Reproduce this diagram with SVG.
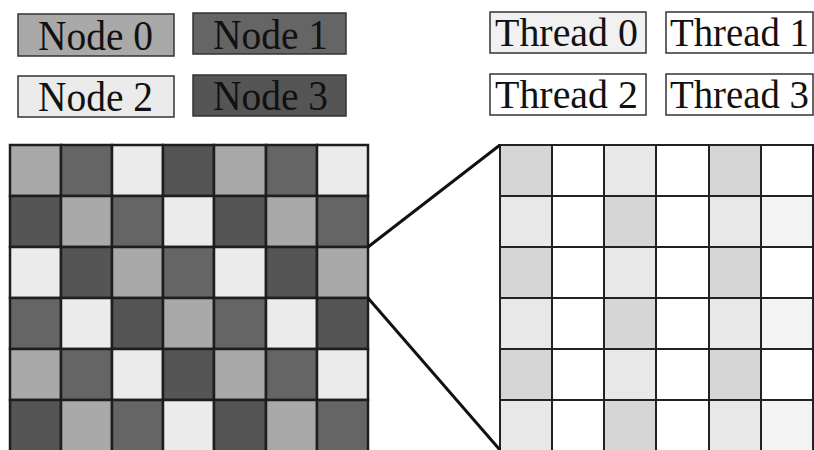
<svg xmlns="http://www.w3.org/2000/svg" width="814" height="450" viewBox="0 0 814 450">
<style>
  .lbl { font-family: "Liberation Serif", "Times New Roman", serif; font-size: 42px; fill: #111; }
  .tlbl { font-family: "Liberation Serif", "Times New Roman", serif; font-size: 39px; fill: #111; }
  .box { stroke: #333; stroke-width: 1.5; }
  .n0 { fill: #a9a9a9; }
  .n1 { fill: #656565; }
  .n2 { fill: #ebebeb; }
  .n3 { fill: #555555; }
  .cellL { stroke: #1e1e1e; stroke-width: 2.5; }
  .cellR { stroke: #222; stroke-width: 2; }
  .tg { fill: #d6d6d6; }
  .tl { fill: #e8e8e8; }
  .tw { fill: #ffffff; }
  .tf { fill: #f3f3f3; }
  .conn { stroke: #111; stroke-width: 3; fill: none; }
</style>
<rect width="814" height="450" fill="#ffffff"/>

<g id="legend-node0"><rect class="box n0" x="18" y="14" width="156" height="42"/><text class="lbl" x="38" y="50" textLength="115" lengthAdjust="spacingAndGlyphs">Node 0</text></g>
<g id="legend-node1"><rect class="box n1" x="193" y="13" width="153" height="41"/><text class="lbl" x="213" y="49" textLength="115" lengthAdjust="spacingAndGlyphs">Node 1</text></g>
<g id="legend-node2"><rect class="box n2" x="18" y="76" width="156" height="41"/><text class="lbl" x="38" y="111" textLength="115" lengthAdjust="spacingAndGlyphs">Node 2</text></g>
<g id="legend-node3"><rect class="box n3" x="193" y="75" width="153" height="41"/><text class="lbl" x="213" y="110" textLength="115" lengthAdjust="spacingAndGlyphs">Node 3</text></g>

<g id="legend-thread0"><rect class="box" fill="#f1f1f1" x="490" y="12" width="156" height="41"/><text class="tlbl" x="495" y="46" textLength="143" lengthAdjust="spacingAndGlyphs">Thread 0</text></g>
<g id="legend-thread1"><rect class="box" fill="#ffffff" x="666" y="12" width="147" height="41"/><text class="tlbl" x="670" y="46" textLength="139" lengthAdjust="spacingAndGlyphs">Thread 1</text></g>
<g id="legend-thread2"><rect class="box" fill="#ffffff" x="490" y="74" width="156" height="41"/><text class="tlbl" x="495" y="108" textLength="143" lengthAdjust="spacingAndGlyphs">Thread 2</text></g>
<g id="legend-thread3"><rect class="box" fill="#ffffff" x="666" y="74" width="147" height="41"/><text class="tlbl" x="670" y="108" textLength="139" lengthAdjust="spacingAndGlyphs">Thread 3</text></g>

<g id="node-grid">
  <!-- row 0 -->
  <rect class="cellL n0" x="10" y="145" width="51" height="51"/>
  <rect class="cellL n1" x="61" y="145" width="51" height="51"/>
  <rect class="cellL n2" x="112" y="145" width="51" height="51"/>
  <rect class="cellL n3" x="163" y="145" width="51" height="51"/>
  <rect class="cellL n0" x="214" y="145" width="52" height="51"/>
  <rect class="cellL n1" x="266" y="145" width="51" height="51"/>
  <rect class="cellL n2" x="317" y="145" width="51" height="51"/>
  <!-- row 1 -->
  <rect class="cellL n3" x="10" y="196" width="51" height="51"/>
  <rect class="cellL n0" x="61" y="196" width="51" height="51"/>
  <rect class="cellL n1" x="112" y="196" width="51" height="51"/>
  <rect class="cellL n2" x="163" y="196" width="51" height="51"/>
  <rect class="cellL n3" x="214" y="196" width="52" height="51"/>
  <rect class="cellL n0" x="266" y="196" width="51" height="51"/>
  <rect class="cellL n1" x="317" y="196" width="51" height="51"/>
  <!-- row 2 -->
  <rect class="cellL n2" x="10" y="247" width="51" height="51"/>
  <rect class="cellL n3" x="61" y="247" width="51" height="51"/>
  <rect class="cellL n0" x="112" y="247" width="51" height="51"/>
  <rect class="cellL n1" x="163" y="247" width="51" height="51"/>
  <rect class="cellL n2" x="214" y="247" width="52" height="51"/>
  <rect class="cellL n3" x="266" y="247" width="51" height="51"/>
  <rect class="cellL n0" x="317" y="247" width="51" height="51"/>
  <!-- row 3 -->
  <rect class="cellL n1" x="10" y="298" width="51" height="51"/>
  <rect class="cellL n2" x="61" y="298" width="51" height="51"/>
  <rect class="cellL n3" x="112" y="298" width="51" height="51"/>
  <rect class="cellL n0" x="163" y="298" width="51" height="51"/>
  <rect class="cellL n1" x="214" y="298" width="52" height="51"/>
  <rect class="cellL n2" x="266" y="298" width="51" height="51"/>
  <rect class="cellL n3" x="317" y="298" width="51" height="51"/>
  <!-- row 4 -->
  <rect class="cellL n0" x="10" y="349" width="51" height="51"/>
  <rect class="cellL n1" x="61" y="349" width="51" height="51"/>
  <rect class="cellL n2" x="112" y="349" width="51" height="51"/>
  <rect class="cellL n3" x="163" y="349" width="51" height="51"/>
  <rect class="cellL n0" x="214" y="349" width="52" height="51"/>
  <rect class="cellL n1" x="266" y="349" width="51" height="51"/>
  <rect class="cellL n2" x="317" y="349" width="51" height="51"/>
  <!-- row 5 -->
  <rect class="cellL n3" x="10" y="400" width="51" height="52"/>
  <rect class="cellL n0" x="61" y="400" width="51" height="52"/>
  <rect class="cellL n1" x="112" y="400" width="51" height="52"/>
  <rect class="cellL n2" x="163" y="400" width="51" height="52"/>
  <rect class="cellL n3" x="214" y="400" width="52" height="52"/>
  <rect class="cellL n0" x="266" y="400" width="51" height="52"/>
  <rect class="cellL n1" x="317" y="400" width="51" height="52"/>
</g>

<g id="thread-grid">
  <!-- row 0 -->
  <rect class="cellR tg" x="500" y="145" width="52" height="51"/>
  <rect class="cellR tw" x="552" y="145" width="52" height="51"/>
  <rect class="cellR tl" x="604" y="145" width="52" height="51"/>
  <rect class="cellR tw" x="656" y="145" width="53" height="51"/>
  <rect class="cellR tg" x="709" y="145" width="52" height="51"/>
  <rect class="cellR tw" x="761" y="145" width="52" height="51"/>
  <!-- row 1 -->
  <rect class="cellR tl" x="500" y="196" width="52" height="51"/>
  <rect class="cellR tw" x="552" y="196" width="52" height="51"/>
  <rect class="cellR tg" x="604" y="196" width="52" height="51"/>
  <rect class="cellR tw" x="656" y="196" width="53" height="51"/>
  <rect class="cellR tl" x="709" y="196" width="52" height="51"/>
  <rect class="cellR tf" x="761" y="196" width="52" height="51"/>
  <!-- row 2 -->
  <rect class="cellR tg" x="500" y="247" width="52" height="51"/>
  <rect class="cellR tw" x="552" y="247" width="52" height="51"/>
  <rect class="cellR tl" x="604" y="247" width="52" height="51"/>
  <rect class="cellR tw" x="656" y="247" width="53" height="51"/>
  <rect class="cellR tg" x="709" y="247" width="52" height="51"/>
  <rect class="cellR tw" x="761" y="247" width="52" height="51"/>
  <!-- row 3 -->
  <rect class="cellR tl" x="500" y="298" width="52" height="51"/>
  <rect class="cellR tw" x="552" y="298" width="52" height="51"/>
  <rect class="cellR tg" x="604" y="298" width="52" height="51"/>
  <rect class="cellR tw" x="656" y="298" width="53" height="51"/>
  <rect class="cellR tl" x="709" y="298" width="52" height="51"/>
  <rect class="cellR tf" x="761" y="298" width="52" height="51"/>
  <!-- row 4 -->
  <rect class="cellR tg" x="500" y="349" width="52" height="51"/>
  <rect class="cellR tw" x="552" y="349" width="52" height="51"/>
  <rect class="cellR tl" x="604" y="349" width="52" height="51"/>
  <rect class="cellR tw" x="656" y="349" width="53" height="51"/>
  <rect class="cellR tg" x="709" y="349" width="52" height="51"/>
  <rect class="cellR tw" x="761" y="349" width="52" height="51"/>
  <!-- row 5 -->
  <rect class="cellR tl" x="500" y="400" width="52" height="52"/>
  <rect class="cellR tw" x="552" y="400" width="52" height="52"/>
  <rect class="cellR tg" x="604" y="400" width="52" height="52"/>
  <rect class="cellR tw" x="656" y="400" width="53" height="52"/>
  <rect class="cellR tl" x="709" y="400" width="52" height="52"/>
  <rect class="cellR tf" x="761" y="400" width="52" height="52"/>
</g>

<g id="connectors">
  <line class="conn" x1="368" y1="247" x2="500" y2="145"/>
  <line class="conn" x1="368" y1="298" x2="500" y2="450"/>
</g>
</svg>
